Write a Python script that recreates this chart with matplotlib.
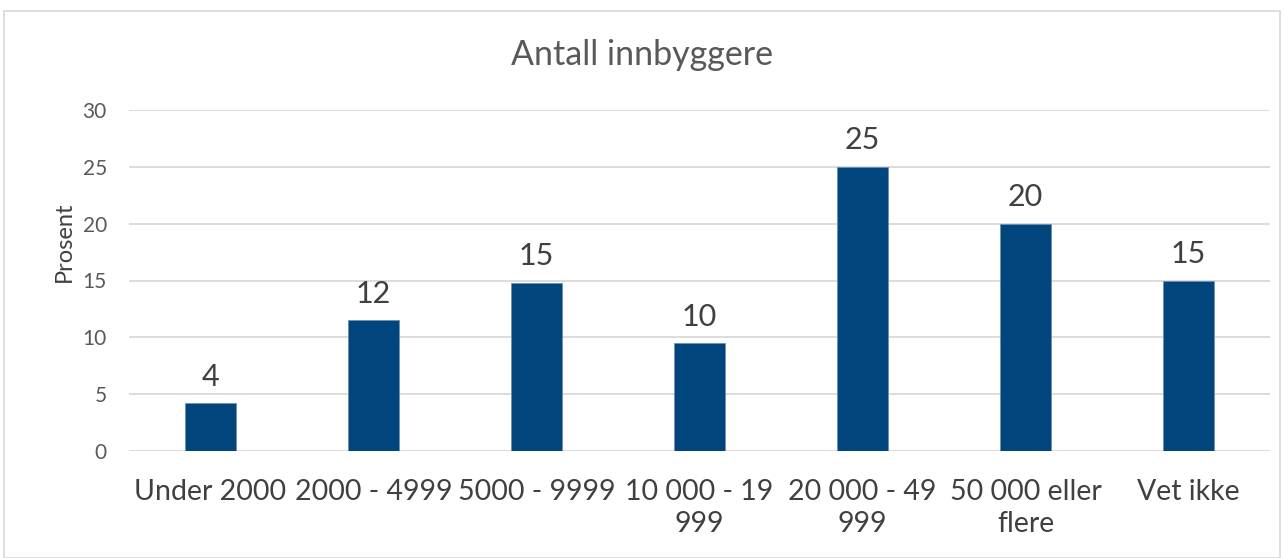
import matplotlib.pyplot as plt
from matplotlib.patches import Rectangle

categories = ["Under 2000", "2000 - 4999", "5000 - 9999", "10 000 - 19\n999",
              "20 000 - 49\n999", "50 000 eller\nflere", "Vet ikke"]
values = [4.2, 11.5, 14.8, 9.5, 25.0, 20.0, 15.0]
value_labels = ["4", "12", "15", "10", "25", "20", "15"]
yticks = [0, 5, 10, 15, 20, 25, 30]

plt.rcParams['font.family'] = ['Lato', 'DejaVu Sans']
txt = '#595959'
bar_color = '#00457c'

fig = plt.figure(figsize=(12.84, 5.58), dpi=100)
fig.patches.append(Rectangle((4 / 1284, 0), 1276 / 1284, 547 / 558,
                             transform=fig.transFigure, fill=False,
                             edgecolor='#d9d9d9', linewidth=1.2))
ax = fig.add_axes([129 / 1284, 1 - 451 / 558, 1141 / 1284, 341 / 558])

x = range(len(categories))
ax.bar(x, values, width=0.31, color=bar_color, edgecolor='#6f8fb5', linewidth=0.6, zorder=3)
for i, (v, lab) in enumerate(zip(values, value_labels)):
    ax.annotate(lab, (i, v), xytext=(0, 9), textcoords='offset points',
                ha='center', va='bottom', fontsize=22, color='#404040')

ax.set_xlim(-0.5, len(categories) - 0.5)
ax.set_ylim(0, 30)
ax.set_yticks(yticks)
ax.set_xticks(list(x))
ax.set_xticklabels(categories, fontsize=20.5, color='#404040', linespacing=1.3)
ax.tick_params(axis='x', length=0, pad=20)
ax.tick_params(axis='y', length=0, pad=16, labelsize=15, labelcolor=txt)
ax.grid(axis='y', color='#d9d9d9', linewidth=1.3, zorder=0)
for s in ax.spines.values():
    s.set_visible(False)
ax.set_ylabel("Prosent", fontsize=17, color='#404040')
ax.yaxis.set_label_coords(-0.047, 0.615)
fig.text(0.5, 1 - 55 / 558, "Antall innbyggere", ha='center', va='center',
         fontsize=24.5, color=txt)

fig.savefig("out.png", dpi=100)
